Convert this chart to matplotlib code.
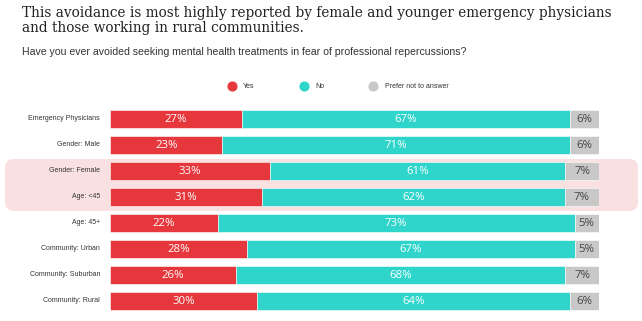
import matplotlib
matplotlib.use("Agg")
import matplotlib.pyplot as plt
import numpy as np
from matplotlib.patches import FancyBboxPatch
from matplotlib.lines import Line2D

categories = ["Emergency Physicians", "Gender: Male", "Gender: Female", "Age: <45",
              "Age: 45+", "Community: Urban", "Community: Suburban", "Community: Rural"]
yes = [27, 23, 33, 31, 22, 28, 26, 30]
no = [67, 71, 61, 62, 73, 67, 68, 64]
prefer_not = [6, 6, 7, 7, 5, 5, 7, 6]
series_names = ["Yes", "No", "Prefer not to answer"]

RED = "#e6383c"
TEAL = "#2fd5cb"
GRAY = "#c8c8c8"
PINK = "#fae1e1"

W, H = 642, 321
fig = plt.figure(figsize=(W / 100, H / 100), dpi=100)

# highlight box behind Female / <45 rows
box = FancyBboxPatch((5 / 100, (H - 211) / 100), 633 / 100, 52 / 100,
                     boxstyle="round,pad=0,rounding_size=0.09",
                     transform=fig.dpi_scale_trans, facecolor=PINK,
                     edgecolor="none", zorder=-5)
fig.patches.append(box)

ax = fig.add_axes([110 / W, 1 - 314 / H, (599 - 110) / W, 208 / H])
ax.set_facecolor("none")
ax.set_zorder(2)

data = np.array([yes, no, prefer_not], dtype=float)
totals = data.sum(axis=0)
shares = data / totals * 100
y = np.arange(len(categories))
left = np.zeros(len(categories))
colors = [RED, TEAL, GRAY]
text_colors = ["white", "white", "#444444"]
for vals, lbls, c, tc in zip(shares, data, colors, text_colors):
    ax.barh(y, vals, left=left, height=0.66, color=c, edgecolor="white",
            linewidth=0.4)
    for yi, (l, v, lab) in enumerate(zip(left, vals, lbls)):
        ax.text(l + v / 2, yi, f"{int(lab)}%", ha="center", va="center",
                color=tc, fontsize=8.2, family="Open Sans")
    left += vals

ax.set_xlim(0, 100)
ax.set_ylim(len(categories) - 0.5, -0.5)
ax.axis("off")

for yi, cat in enumerate(categories):
    ax.text(-2.0, yi, cat, ha="right", va="center", fontsize=5.0,
            color="#333333", family="Liberation Sans")

# legend
for (cx, tx), name, c in zip([(232, 243), (304, 315), (373, 385)], series_names, colors):
    fig.add_artist(Line2D([cx / W], [1 - 86 / H], marker="o", markersize=6.3,
                          color=c, linestyle="none"))
    fig.text(tx / W, 1 - 86 / H, name, ha="left", va="center", fontsize=5.0,
             color="#333333", family="Liberation Sans")

fig.text(22 / W, 1 - 6 / H,
         "This avoidance is most highly reported by female and younger emergency physicians\n"
         "and those working in rural communities.",
         ha="left", va="top", fontsize=9.85, family="DejaVu Serif",
         color="#222222", linespacing=1.12)
fig.text(22 / W, 1 - 52 / H,
         "Have you ever avoided seeking mental health treatments in fear of professional repercussions?",
         ha="left", va="center", fontsize=7.6, family="Liberation Sans", color="#333333")

fig.savefig("out.png", dpi=100)
